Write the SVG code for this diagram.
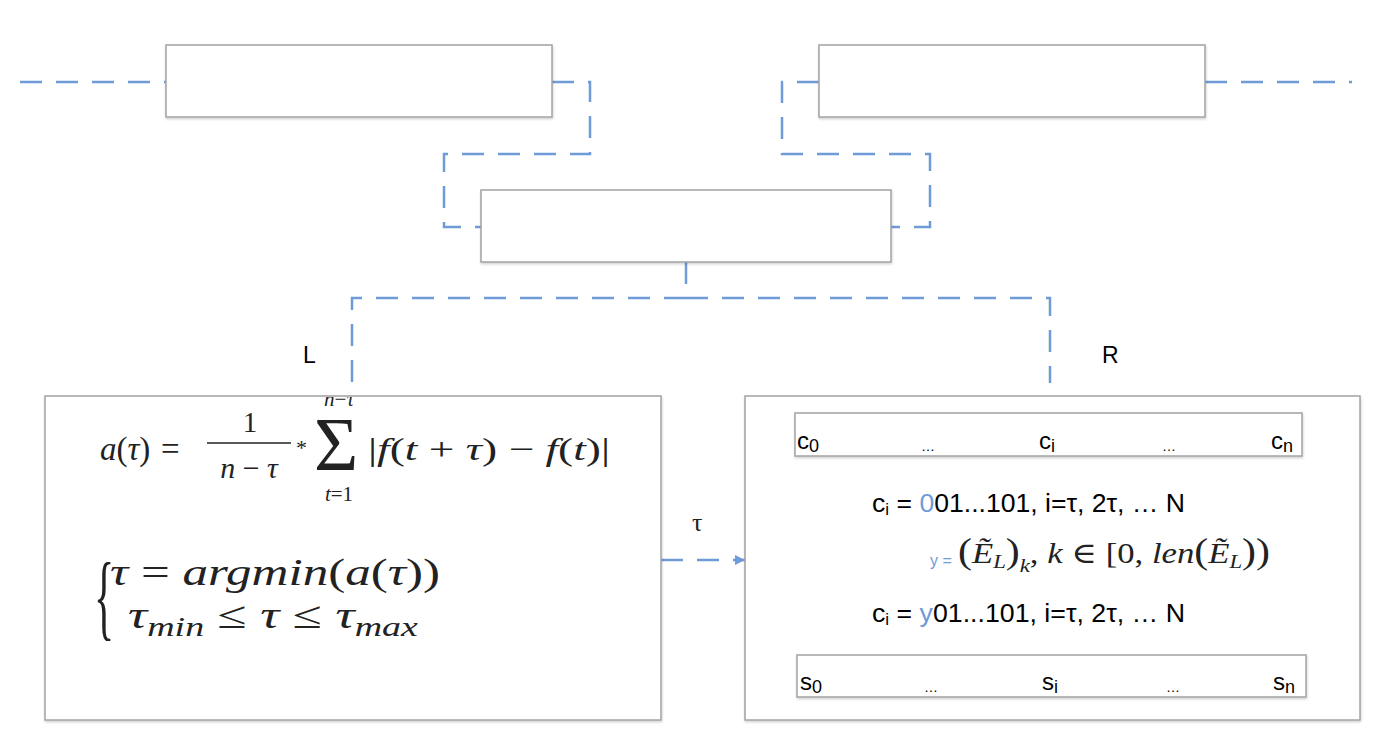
<svg xmlns="http://www.w3.org/2000/svg" width="1375" height="733" viewBox="0 0 1375 733">
<style>
.box{fill:#fff;stroke:#a3a3a3;stroke-width:1.5;filter:url(#sh)}
.con{fill:none;stroke:#6f9bd8;stroke-width:2.5;stroke-dasharray:22 14}
.sol{fill:none;stroke:#6f9bd8;stroke-width:2.5}
.t{font-family:"Liberation Sans","Open Sans",sans-serif;fill:#000}
.m{font-family:"Liberation Serif","DejaVu Serif",serif;font-style:normal;fill:#222}
.mi{font-family:"Liberation Serif","DejaVu Serif",serif;font-style:italic;fill:#222}
.blue{fill:#6f9bd8}
</style>
<defs>
<filter id="sh" x="-5%" y="-5%" width="110%" height="120%">
<feDropShadow dx="0.5" dy="1.5" stdDeviation="1" flood-color="#000" flood-opacity="0.18"/>
</filter>
<marker id="ar" viewBox="0 0 10 10" refX="10" refY="5" markerWidth="4" markerHeight="4" orient="auto" markerUnits="strokeWidth">
<path d="M0,0 L10,5 L0,10 z" fill="#6f9bd8"/>
</marker>
<clipPath id="clipL"><rect x="45" y="397" width="616" height="323"/></clipPath>
</defs>

<g id="connectors">
<path class="con" d="M20,82 H166"/>
<path class="con" d="M552,82 H590 V154 H444 V227 H481"/>
<path class="con" d="M819,82 H782 V154 H930 V227 H891"/>
<path class="con" d="M1205,82 H1352"/>
<path class="sol" d="M686,262 V284"/>
<path class="con" d="M686,298 H352 V382"/>
<path class="con" d="M686,298 H1050 V383"/>
<path class="con" d="M661,560 H745" marker-end="url(#ar)"/>
</g>

<g id="node-top-left"><rect class="box" x="166" y="45" width="386" height="72"/></g>
<g id="node-top-right"><rect class="box" x="819" y="45" width="386" height="72"/></g>
<g id="node-middle"><rect class="box" x="481" y="190" width="410" height="72"/></g>

<g id="labels">
<text class="t" x="303" y="363" font-size="23">L</text>
<text class="t" x="1102" y="363" font-size="23">R</text>
<text class="m" x="692" y="531" font-size="26">τ</text>
</g>

<g id="node-left">
<rect class="box" x="45" y="396" width="616" height="324"/>
<g clip-path="url(#clipL)">
<text class="mi" x="100" y="460" font-size="33">a<tspan class="m">(</tspan>τ<tspan class="m">)</tspan></text>
<text class="m" x="161" y="460" font-size="33">=</text>
<text class="m" x="250" y="432" font-size="29" text-anchor="middle">1</text>
<line x1="207" y1="443" x2="291" y2="443" stroke="#222" stroke-width="1.6"/>
<text class="mi" x="249" y="478" font-size="30" text-anchor="middle">n <tspan class="m">−</tspan> τ</text>
<text class="m" x="296" y="455" font-size="22">*</text>
<text class="m" x="314" y="470" font-size="76" font-weight="normal" fill="#333">Σ</text>
<text class="mi" x="339" y="406" font-size="21" text-anchor="middle">n<tspan class="m">−</tspan>τ</text>
<text class="mi" x="339" y="501" font-size="21" text-anchor="middle">t<tspan class="m">=1</tspan></text>
<text class="mi" x="368" y="460" font-size="32" textLength="242" lengthAdjust="spacingAndGlyphs"><tspan class="m">|</tspan>f<tspan class="m">(</tspan>t <tspan class="m">+</tspan> τ<tspan class="m">) −</tspan> f<tspan class="m">(</tspan>t<tspan class="m">)|</tspan></text>
<text class="m" transform="translate(94,628) scale(0.42,0.95)" font-size="100">{</text>
<text class="mi" x="110" y="585" font-size="38" textLength="330" lengthAdjust="spacingAndGlyphs">τ <tspan class="m">=</tspan> argmin<tspan class="m">(</tspan>a<tspan class="m">(</tspan>τ<tspan class="m">))</tspan></text>
<text class="mi" x="128" y="628" font-size="38" textLength="290" lengthAdjust="spacingAndGlyphs">τ<tspan font-size="27" dy="8">min</tspan><tspan class="m" dy="-8"> ≤ </tspan>τ<tspan class="m"> ≤ </tspan>τ<tspan font-size="27" dy="8">max</tspan></text>
</g>
</g>

<g id="node-right">
<rect class="box" x="745" y="396" width="615" height="324"/>
<g id="c-array">
<rect class="box" x="795" y="413" width="507" height="43"/>
<text class="t" x="797" y="449" font-size="24">c<tspan font-size="18" dy="3">0</tspan></text>
<text class="t" x="921" y="451" font-size="14">…</text>
<text class="t" x="1039" y="449" font-size="24">c<tspan font-size="18" dy="3">i</tspan></text>
<text class="t" x="1162" y="451" font-size="14">…</text>
<text class="t" x="1271" y="449" font-size="24">c<tspan font-size="18" dy="3">n</tspan></text>
</g>
<text class="t" x="872" y="512" font-size="25" textLength="313" lengthAdjust="spacingAndGlyphs">c<tspan font-size="16" dy="3">i</tspan><tspan dy="-3"> = </tspan><tspan class="blue">0</tspan>01...101, i=τ, 2τ, … N</text>
<text class="t blue" x="930" y="566" font-size="16">y =</text>
<text class="mi" x="958" y="563" font-size="29" textLength="312" lengthAdjust="spacingAndGlyphs"><tspan class="m" font-size="35">(</tspan>Ẽ<tspan font-size="19" dy="5">L</tspan><tspan class="m" font-size="35" dy="-5">)</tspan><tspan font-size="19" dy="9">k</tspan><tspan class="m" dy="-9">, </tspan>k<tspan class="m"> ∈ [0, </tspan>len<tspan class="m" font-size="35">(</tspan>Ẽ<tspan font-size="19" dy="5">L</tspan><tspan class="m" font-size="35" dy="-5">))</tspan></text>
<text class="t" x="872" y="622" font-size="25" textLength="313" lengthAdjust="spacingAndGlyphs">c<tspan font-size="16" dy="3">i</tspan><tspan dy="-3"> = </tspan><tspan class="blue">y</tspan>01...101, i=τ, 2τ, … N</text>
<g id="s-array">
<rect class="box" x="797" y="655" width="509" height="42"/>
<text class="t" x="800" y="690" font-size="24">s<tspan font-size="18" dy="3">0</tspan></text>
<text class="t" x="924" y="692" font-size="14">…</text>
<text class="t" x="1042" y="690" font-size="24">s<tspan font-size="18" dy="3">i</tspan></text>
<text class="t" x="1166" y="692" font-size="14">…</text>
<text class="t" x="1273" y="690" font-size="24">s<tspan font-size="18" dy="3">n</tspan></text>
</g>
</g>
</svg>
